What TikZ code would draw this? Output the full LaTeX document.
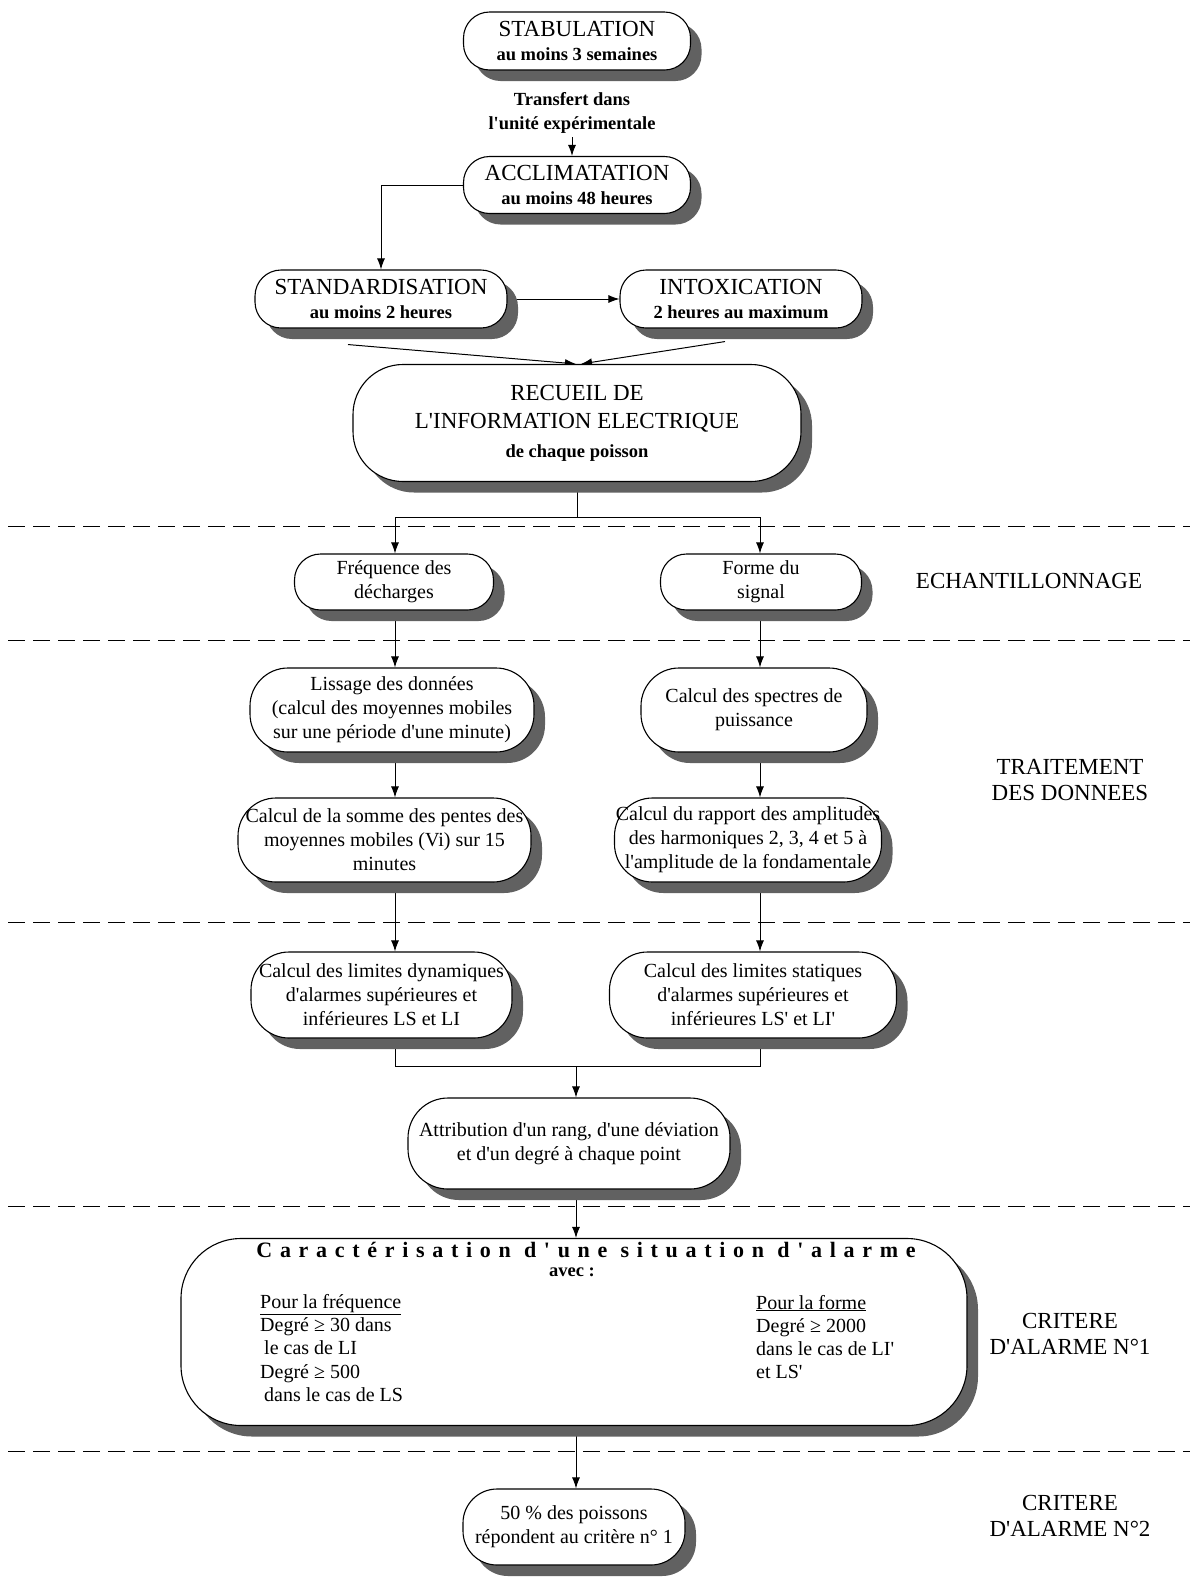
\documentclass[tikz,border=0pt]{standalone}
\usepackage{fontspec}
\setmainfont[Ligatures=TeXOff]{Liberation Serif}
\newfontfamily\spacedfont[LetterSpace=35,Ligatures=TeXOff]{Liberation Serif}
\usetikzlibrary{arrows.meta,shadows,calc}
\pgfdeclarelayer{bg}
\pgfsetlayers{bg,main}
\newcommand\ttlfont{\fontsize{23}{26}\selectfont}
\newcommand\subfont{\fontsize{18.5}{24}\selectfont\bfseries}
\tikzset{
  box/.style={draw, line width=1.1pt, fill=white, rounded corners=#1, inner sep=0pt, align=center,
    font=\fontsize{20}{24}\selectfont,
    drop shadow={shadow xshift=11pt, shadow yshift=-11pt, fill=black!62, opacity=1}},
  box/.default=26pt,
  sz/.style 2 args={minimum width=#1pt, minimum height=#2pt},
  conn/.style={line width=1pt, -{Latex[length=11pt,width=8pt]}},
  plain/.style={line width=1pt},
  sep/.style={line width=1pt, dash pattern=on 17pt off 8pt},
  side/.style={font=\fontsize{23}{26}\selectfont, align=center},
}
\begin{document}
\begin{tikzpicture}[x=1pt,y=-1pt]
\useasboundingbox (0,0) rectangle (1194,1580);

\node[box, sz={227}{58}] (stab) at (577,41) {{\ttlfont STABULATION}\\{\subfont au moins 3 semaines}};
\node[font=\subfont, align=center] (transf) at (572,113) {Transfert dans\\l'unité expérimentale};
\node[box, sz={227}{57}] (accl) at (577,185) {{\ttlfont ACCLIMATATION}\\{\subfont au moins 48 heures}};
\node[box, sz={252}{58}] (stand) at (381,299) {{\ttlfont STANDARDISATION}\\{\subfont au moins 2 heures}};
\node[box, sz={242}{58}] (intox) at (741,299) {{\ttlfont INTOXICATION}\\{\subfont 2 heures au maximum}};
\node[box=50pt, sz={448}{117}, font=\fontsize{23}{28.5}\selectfont] (rec) at (577,423) {RECUEIL DE\\L'INFORMATION ELECTRIQUE\\{\subfont de chaque poisson}};
\node[box, sz={199}{56}] (freq) at (394,582) {Fréquence des\\décharges};
\node[box, sz={201}{56}] (forme) at (761,582) {Forme du\\signal};
\node[box=38pt, sz={284}{84}] (liss) at (392,710) {Lissage des données\\(calcul des moyennes mobiles\\sur une période d'une minute)};
\node[box=38pt, sz={226}{84}] (spec) at (754,710) {Calcul des spectres de\\puissance};
\node[box=38pt, sz={293}{84}] (somme) at (384.5,840) {Calcul de la somme des pentes des\\moyennes mobiles (Vi) sur 15\\minutes};
\node[box=38pt, sz={267}{84}] (rapp) at (748,840) {Calcul du rapport des amplitudes\\des harmoniques 2, 3, 4 et 5 à\\l'amplitude de la fondamentale};
\node[box=38pt, sz={261}{86}] (dyn) at (381.5,995) {Calcul des limites dynamiques\\d'alarmes supérieures et\\inférieures LS et LI};
\node[box=38pt, sz={287}{86}] (stat) at (753,995) {Calcul des limites statiques\\d'alarmes supérieures et\\inférieures LS' et LI'};
\node[box=40pt, sz={322}{91}] (attr) at (569,1143.5) {Attribution d'un rang, d'une déviation\\et d'un degré à chaque point};
\node[box=60pt, sz={786}{187}] (carac) at (574,1332) {};
\node[box=34pt, sz={222}{76}] (fifty) at (574,1527) {50 \% des poissons\\répondent au critère n° 1};

\node[font=\spacedfont\fontsize{22}{24}\selectfont\bfseries, inner sep=0pt] (ctitle) at (586,1250) {Caractérisation d'une situation d'alarme};
\node[font=\subfont, inner sep=0pt] (avec) at (572,1272) {avec :};
\node[anchor=west, align=left, font=\fontsize{20}{23.3}\selectfont, inner sep=0pt] (fleft) at (260,1348)
  {\underline{Pour la fréquence}\\Degré ≥ 30 dans\\\hspace*{4pt}le cas de LI\\Degré ≥ 500\\\hspace*{4pt}dans le cas de LS};
\node[anchor=west, align=left, font=\fontsize{20}{23.3}\selectfont, inner sep=0pt] (fright) at (756,1337)
  {\underline{Pour la forme}\\Degré ≥ 2000\\dans le cas de LI'\\et LS'};

\node[side] (l1) at (1029,581) {ECHANTILLONNAGE};
\node[side] (l2) at (1070,780.5) {TRAITEMENT\\DES DONNEES};
\node[side] (l3) at (1070,1333.5) {CRITERE\\D'ALARME N°1};
\node[side] (l4) at (1070,1515.5) {CRITERE\\D'ALARME N°2};

\coordinate (j1) at (577,517);
\coordinate (j2) at (576,1066);
\coordinate (cl) at (395,0);
\coordinate (cr) at (760,0);
\coordinate (cm) at (576,0);

\begin{pgfonlayer}{bg}
\fill[white] (0,0) rectangle (1194,1580);
\draw[sep] (8,526) -- (1190,526);
\draw[sep] (8,640) -- (1190,640);
\draw[sep] (8,922) -- (1190,922);
\draw[sep] (8,1206) -- (1190,1206);
\draw[sep] (8,1451) -- (1190,1451);

\draw[conn] (transf.south) -- (transf.south |- accl.north);
\draw[conn] (accl.west) -| (stand.north);
\draw[conn] (stand.east) -- (intox.west);
\draw[conn] ($(stand.south)+(-33,16)$) -- ($(rec.north)+(-1,0)$);
\draw[conn] ($(intox.south)+(-16,13)$) -- ($(rec.north)+(4,0)$);
\draw[plain] (rec.south) -- (j1);
\draw[conn] (j1) -| (cl |- freq.north);
\draw[conn] (j1) -| (cr |- forme.north);
\draw[conn] (cl |- freq.south) -- (cl |- liss.north);
\draw[conn] (cr |- forme.south) -- (cr |- spec.north);
\draw[conn] (cl |- liss.south) -- (cl |- somme.north);
\draw[conn] (cr |- spec.south) -- (cr |- rapp.north);
\draw[conn] (cl |- somme.south) -- (cl |- dyn.north);
\draw[conn] (cr |- rapp.south) -- (cr |- stat.north);
\draw[plain] (cl |- dyn.south) |- (j2) -| (cr |- stat.south);
\draw[conn] (j2) -- (cm |- attr.north);
\draw[conn] (cm |- attr.south) -- (cm |- carac.north);
\draw[conn] (cm |- carac.south) -- (cm |- fifty.north);
\end{pgfonlayer}
\end{tikzpicture}
\end{document}
